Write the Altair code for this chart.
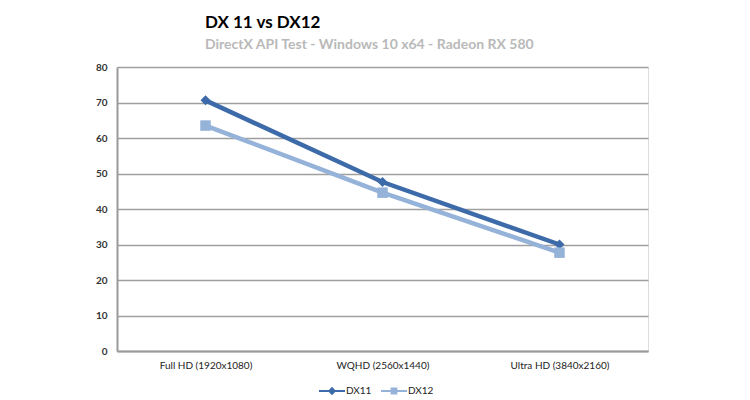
import altair as alt
import pandas as pd

categories = ["Full HD (1920x1080)", "WQHD (2560x1440)", "Ultra HD (3840x2160)"]
dx11 = [70.6, 47.6, 30.0]
dx12 = [63.5, 44.6, 27.7]
series_names = ["DX11", "DX12"]
series_colors = ["#3d6aa9", "#95b2d9"]
series_markers = ["diamond", "square"]

rows = []
for c, v in zip(categories, dx11):
    rows.append({"res": c, "series": "DX11", "fps": v})
for c, v in zip(categories, dx12):
    rows.append({"res": c, "series": "DX12", "fps": v})
df = pd.DataFrame(rows)

FONT = "Lato"

x = alt.X("res:N", sort=categories, scale=alt.Scale(type="point", padding=0.5),
          axis=alt.Axis(title=None, labelAngle=0, labelFontSize=10, labelColor="#222",
                        labelFont=FONT, labelPadding=9, ticks=False, domainColor="#9a9a9a",
                        domainWidth=2, grid=False))
y = alt.Y("fps:Q", scale=alt.Scale(domain=[0, 80]),
          axis=alt.Axis(title=None, values=list(range(0, 81, 10)), labelFontSize=10,
                        labelFontWeight="bold", labelColor="#333", labelFont=FONT,
                        labelPadding=10, ticks=False, domainColor="#9a9a9a", domainWidth=2,
                        gridColor="#9f9f9f", gridWidth=1.6))

path11 = "M-1,-0.08 L-0.24,-0.08 L0,-0.32 L0.24,-0.08 L1,-0.08 L1,0.08 L0.24,0.08 L0,0.32 L-0.24,0.08 L-1,0.08 Z"
path12 = "M-1,-0.08 L-0.26,-0.08 L-0.26,-0.26 L0.26,-0.26 L0.26,-0.08 L1,-0.08 L1,0.08 L0.26,0.08 L0.26,0.26 L-0.26,0.26 L-0.26,0.08 L-1,0.08 Z"

base = alt.Chart(df)
layers = []
for name, col, mk, sz in zip(series_names, series_colors, series_markers, [100, 110]):
    sub = base.transform_filter(alt.datum.series == name)
    layers.append(sub.mark_line(strokeWidth=4.5, color=col).encode(x=x, y=y))
for name, col, mk, sz in zip(series_names, series_colors, series_markers, [100, 110]):
    sub = base.transform_filter(alt.datum.series == name)
    layers.append(sub.mark_point(filled=True, opacity=1, shape=mk, size=sz, color=col).encode(x=x, y=y))

legend_kw = dict(title=None, orient="none", direction="horizontal",
                 legendX=202, legendY=311, labelFont=FONT, labelFontSize=10,
                 labelColor="#222", symbolSize=676, symbolStrokeWidth=0,
                 symbolOpacity=1, labelOffset=1, columnPadding=9)
legend_layer = base.mark_point(filled=True, opacity=0).encode(
    x=x, y=y,
    color=alt.Color("series:N", scale=alt.Scale(domain=series_names, range=series_colors),
                    legend=alt.Legend(**legend_kw)),
    shape=alt.Shape("series:N", scale=alt.Scale(domain=series_names, range=[path11, path12]),
                    legend=alt.Legend(**legend_kw)),
)
layers.append(legend_layer)

chart = alt.layer(*layers).properties(
    width=531, height=284,
    autosize=alt.AutoSizeParams(type="none"),
    padding={"left": 109, "top": 59, "right": 94, "bottom": 49},
    title=alt.TitleParams("DX 11 vs DX12", subtitle="DirectX API Test - Windows 10 x64  - Radeon RX 580",
                          anchor="start", frame="group", dx=88, offset=9,
                          font=FONT, fontSize=17, fontWeight="bold", color="#000",
                          subtitleFont=FONT, subtitleFontSize=14, subtitleFontWeight="bold",
                          subtitleColor="#b9b9b9", subtitlePadding=6),
).configure_view(fill="#e9edf4", stroke=None).configure(background="white")

chart.save("out.html", embed_options={"renderer": "svg", "actions": False})
